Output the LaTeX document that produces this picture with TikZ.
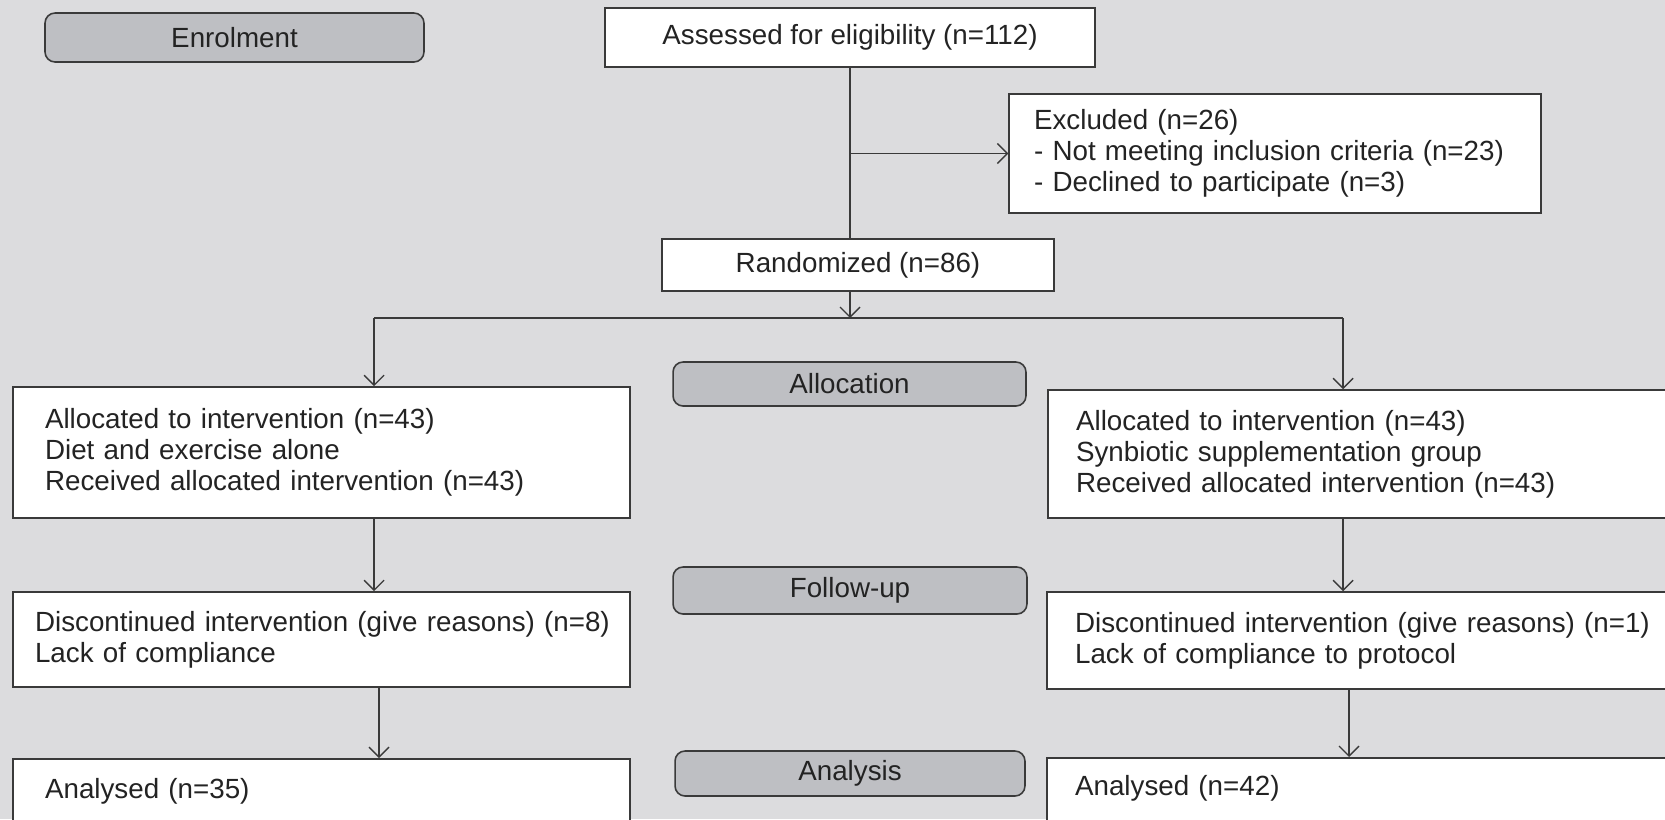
\documentclass[tikz,border=0pt]{standalone}
\usepackage{fontspec}
\setmainfont{Liberation Sans}
\usetikzlibrary{arrows.meta}
\definecolor{bggray}{RGB}{220,220,222}
\definecolor{phasegray}{RGB}{190,191,195}
\definecolor{linegray}{RGB}{58,58,58}
\definecolor{textgray}{RGB}{35,35,35}
\tikzset{
  box/.style={draw=linegray, fill=white, line width=0.9pt, align=left, inner ysep=0pt},
  plain/.style={draw=linegray, fill=white, line width=0.9pt, inner sep=0pt},
  phase/.style={draw=linegray, fill=phasegray, line width=0.9pt, rounded corners=0.2cm, inner sep=0pt},
  link/.style={draw=linegray, line width=0.8pt},
  arr/.style={link, -{Straight Barb[length=0.2cm,width=0.4cm]}},
}

\begin{document}
\begin{tikzpicture}[x=0.02cm, y=-0.02cm, font=\fontsize{15.8}{17.6}\selectfont, text=textgray]
    % 背景
    \useasboundingbox (0,0) rectangle (1665,819);
    \clip (0,0) rectangle (1665,819);
    \fill[bggray] (0,0) rectangle (1665,819);

    % 阶段标签
    \node[phase, minimum width=7.58cm, minimum height=0.98cm] (enrol) at (234.5,37.5) {Enrolment};
    \node[phase, minimum width=7.06cm, minimum height=0.88cm] (alloc) at (849.5,384) {Allocation};
    \node[phase, minimum width=7.08cm, minimum height=0.94cm] (follow) at (850,590.5) {Follow-up};
    \node[phase, minimum width=7.00cm, minimum height=0.90cm] (analysis) at (850,773.5) {Analysis};

    % 上部：筛选与随机
    \node[plain, minimum width=9.8cm, minimum height=1.18cm] (assess) at (850,37.5) {Assessed for eligibility (n=112)};
    \node[box, inner xsep=0.5cm, text width=9.64cm, minimum height=2.38cm] (excl) at (1275,153.5)
        {Excluded (n=26)\\- Not meeting inclusion criteria (n=23)\\- Declined to participate (n=3)};
    \node[plain, minimum width=7.84cm, minimum height=1.04cm] (rand) at (858,265) {Randomized (n=86)};

    % 左列
    \node[box, inner xsep=0.64cm, text width=11.06cm, minimum height=2.62cm] (allocL) at (321.5,452.5)
        {Allocated to intervention (n=43)\\Diet and exercise alone\\Received allocated intervention (n=43)};
    \node[box, inner xsep=0.44cm, text width=11.46cm, minimum height=1.9cm] (discL) at (321.5,639.5)
        {\mbox{Discontinued intervention (give reasons) (n=8)}\\Lack of compliance};
    \node[box, inner xsep=0.64cm, text width=11.06cm, text height=0.8cm, text depth=1cm, anchor=north] (anaL) at (321.5,758)
        {Analysed (n=35)};

    % 右列
    \node[box, inner xsep=0.56cm, text width=11.92cm, minimum height=2.56cm] (allocR) at (1374,454)
        {Allocated to intervention (n=43)\\Synbiotic supplementation group\\Received allocated intervention (n=43)};
    \node[box, inner xsep=0.56cm, text width=11.94cm, minimum height=1.94cm] (discR) at (1373.5,640.5)
        {Discontinued intervention (give reasons) (n=1)\\Lack of compliance to protocol};
    \node[box, inner xsep=0.56cm, text width=11.94cm, text height=0.76cm, text depth=1cm, anchor=north] (anaR) at (1373.5,757)
        {Analysed (n=42)};

    % 连线
    \coordinate (split) at (assess.south |- excl.west);
    \coordinate (branch) at (850,318);
    \coordinate (brL) at (374,318);
    \coordinate (brR) at (1343,318);
    \coordinate (lowL) at (379,0);
    \coordinate (lowR) at (1349,0);

    \draw[link] (assess.south) -- (assess.south |- rand.north);
    \draw[arr] (split) -- (excl.west);
    \draw[arr] (branch |- rand.south) -- (branch);
    \draw[link] (brL) -- (brR);
    \draw[arr] (brL) -- (brL |- allocL.north);
    \draw[arr] (brR) -- (brR |- allocR.north);
    \draw[arr] (brL |- allocL.south) -- (brL |- discL.north);
    \draw[arr] (brR |- allocR.south) -- (brR |- discR.north);
    \draw[arr] (lowL |- discL.south) -- (lowL |- anaL.north);
    \draw[arr] (lowR |- discR.south) -- (lowR |- anaR.north);
\end{tikzpicture}
\end{document}
